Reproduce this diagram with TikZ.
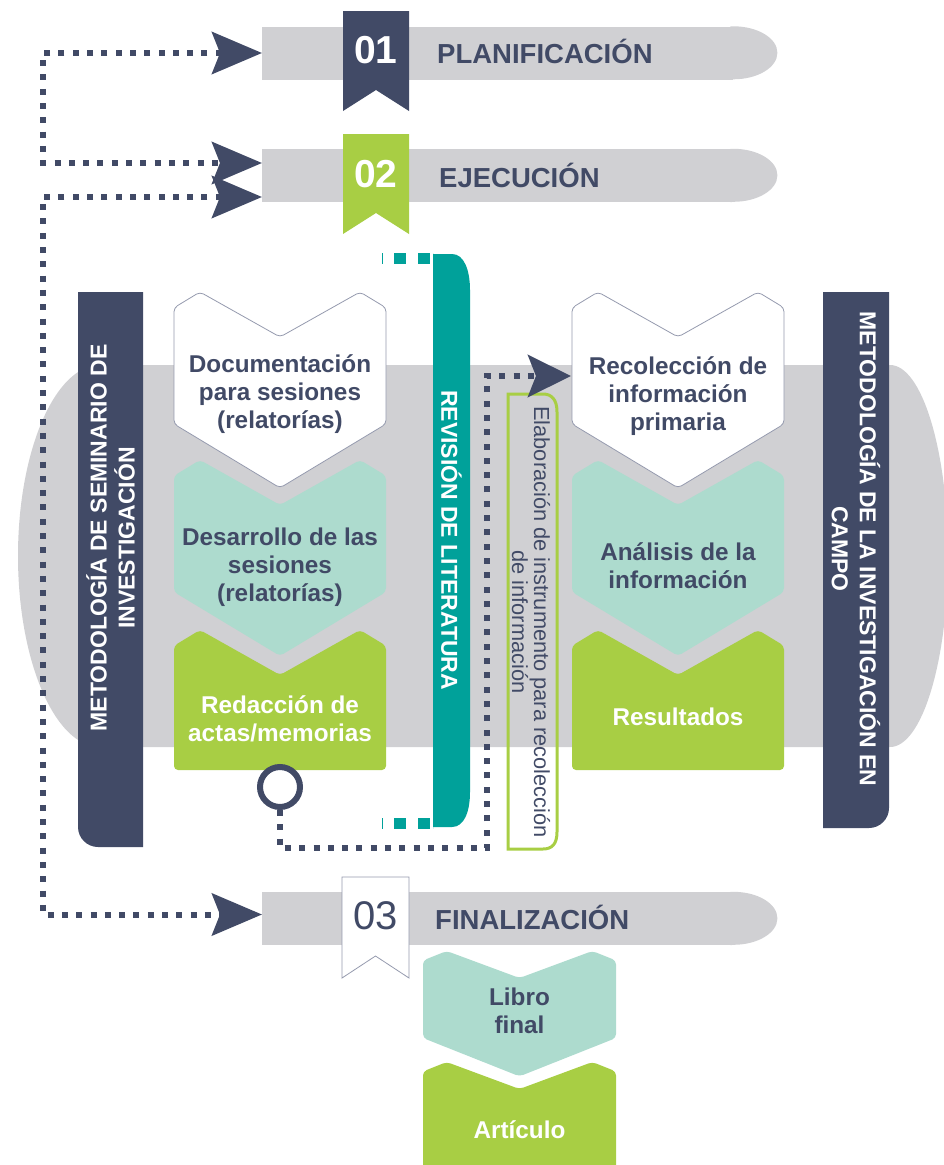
\documentclass[tikz,border=0pt]{standalone}
\usepackage{fontspec}
\setmainfont{Liberation Sans}
\usetikzlibrary{arrows.meta}
\definecolor{navyc}{HTML}{414A66}
\definecolor{greenc}{HTML}{A8CE44}
\definecolor{tealc}{HTML}{00A19A}
\definecolor{mintc}{HTML}{ADDBCE}
\definecolor{grayc}{HTML}{D0D0D3}
\definecolor{linec}{HTML}{959AAE}
\tikzstyle{bar}=[rectangle, fill=grayc, minimum height=52pt, inner sep=0pt, anchor=west]
\tikzstyle{headtxt}=[font=\fontsize{27.5}{33}\selectfont\bfseries, text=navyc, inner sep=0pt, anchor=base west]
\tikzstyle{numtxt}=[font=\fontsize{39}{44}\selectfont\bfseries, text=white, inner sep=0pt, anchor=base]
\tikzstyle{boxtxt}=[font=\fontsize{24.3}{28}\selectfont\bfseries, align=center, text=navyc, inner sep=0pt]
\tikzstyle{bartxt}=[font=\fontsize{23}{28}\selectfont\bfseries, align=center, text=white, inner sep=0pt]
\tikzstyle{smalltxt}=[font=\fontsize{21.8}{22}\selectfont, align=center, text=navyc, inner sep=0pt]
\tikzstyle{whitebox}=[fill=white, draw=linec, line width=0.8pt, rounded corners=4pt]
\tikzstyle{mintbox}=[fill=mintc, rounded corners=4pt]
\tikzstyle{greenbox}=[fill=greenc, rounded corners=4pt]
\tikzstyle{dotline}=[draw=navyc, line width=6pt, dash pattern=on 6pt off 8.3pt,
  >={Stealth[length=50pt, width=42pt, inset=8pt]}]
\tikzstyle{tealstub}=[draw=tealc, line width=11pt, dash pattern=on 1pt off 11pt on 12pt off 12pt on 12pt off 3pt]
\tikzstyle{ring}=[circle, draw=navyc, line width=6pt, fill=white, minimum size=40pt, inner sep=0pt]

% chevron: style, centre x, peak y, half width, notch depth, side height
\newcommand{\chevbox}[6]{%
  \path[#1] (#2-#4,#3+0.35*#5) -- (#2-0.755*#4,#3) -- (#2,#3+#5) -- (#2+0.755*#4,#3)
    -- (#2+#4,#3+0.35*#5) -- (#2+#4,#3+#6) -- (#2,#3+#6+1.42*#5) -- (#2-#4,#3+#6) -- cycle;}
\newcommand{\chevflat}[6]{%
  \path[#1] (#2-#4,#3+0.35*#5) -- (#2-0.755*#4,#3) -- (#2,#3+#5) -- (#2+0.755*#4,#3)
    -- (#2+#4,#3+0.35*#5) -- (#2+#4,#3+#6) -- (#2-#4,#3+#6) -- cycle;}
% rounded end of a phase bar
\newcommand{\barend}[1]{%
  \fill[grayc] ([xshift=-3pt]#1.north east) -- (#1.north east)
    arc[start angle=-90, end angle=90, x radius=44, y radius=26.5] -- ([xshift=-3pt]#1.south east) -- cycle;}

\begin{document}
\begin{tikzpicture}[x=1pt, y=-1pt]
\useasboundingbox (0,0) rectangle (943,1165);

% grey band behind the two columns
\fill[grayc] (100,365) -- (890,365) .. controls (922,365) and (948,451) .. (948,556)
  .. controls (948,661) and (922,747) .. (890,747) -- (100,747)
  .. controls (55,747) and (18,661) .. (18,556) .. controls (18,451) and (55,365) .. (100,365) -- cycle;

% phase bars
\node[bar, minimum width=471pt, minimum height=53pt] (plan) at (262,53) {};
\node[bar, minimum width=471pt, minimum height=53pt] (ejec) at (262,175.5) {};
\node[bar, minimum width=471pt, minimum height=53pt] (final) at (262,918.5) {};
\barend{plan}
\barend{ejec}
\barend{final}

% ribbons
\fill[navyc] (343,11) -- (409,11) -- (409,111) -- (376,90) -- (343,111) -- cycle;
\fill[greenc] (343,134) -- (409,134) -- (409,234) -- (376,213) -- (343,234) -- cycle;
\filldraw[fill=white, draw=linec, line width=0.8pt] (342,877) -- (409,877) -- (409,978) -- (375.5,956) -- (342,978) -- cycle;

\node[numtxt] (n01) at (376,63) {01};
\node[numtxt] (n02) at (376,187) {02};
\node[numtxt, font=\fontsize{40}{44}\selectfont, text=navyc] (n03) at (375.5,929) {03};
\node[headtxt] (plantxt) at (437,63) {PLANIFICACIÓN};
\node[headtxt] (ejectxt) at (439,187) {EJECUCIÓN};
\node[headtxt] (finaltxt) at (435,929) {FINALIZACIÓN};

% dotted links on the left
\draw[dotline, <->] (plan.west) -- ++(-219,0) |- ([yshift=12.5pt]ejec.west);
\draw[dotline, <->] ([yshift=-21.5pt]ejec.west) -- ++(-219,0) |- ([yshift=4pt]final.west);

% side bars
\fill[navyc] (78,292) -- (143,292) -- (143,847) -- (98,847) .. controls (87,847) and (78,838) .. (78,827) -- cycle;
\fill[navyc] (823,292) -- (889,292) -- (889,808) .. controls (889,819) and (880,828) .. (869,828) -- (823,828) -- cycle;
\node[bartxt, rotate=90] (semtxt) at (110.5,538) {METODOLOGÍA DE SEMINARIO DE\\INVESTIGACIÓN};
\node[bartxt, rotate=-90] (camptxt) at (856,549) {METODOLOGÍA DE LA INVESTIGACIÓN EN\\CAMPO};

% left column
\chevbox{whitebox}{280}{292}{106}{45}{132}
\chevbox{mintbox}{280}{460}{106}{45}{132}
\chevflat{greenbox}{280}{630}{106}{45}{140}
\node[boxtxt] (docu) at (280,394) {Documentación\\para sesiones\\(relatorías)};
\node[boxtxt] (desa) at (280,567) {Desarrollo de las\\sesiones\\(relatorías)};
\node[boxtxt, text=white] (reda) at (280,719) {Redacción de\\actas/memorias};

% right column
\chevbox{whitebox}{678}{292}{106}{45}{132}
\chevbox{mintbox}{678}{460}{106}{45}{132}
\chevflat{greenbox}{678}{630}{106}{45}{140}
\node[boxtxt] (reco) at (678,396) {Recolección de\\información\\primaria};
\node[boxtxt] (anal) at (678,566) {Análisis de la\\información};
\node[boxtxt, text=white] (resu) at (678,717) {Resultados};
\coordinate (recol) at (571,376);

% final products
\chevbox{mintbox}{519.5}{951}{96.5}{27}{87}
\chevflat{greenbox}{519.5}{1062}{96.5}{27}{125}
\node[boxtxt] (libro) at (519.5,1011) {Libro\\final};
\node[boxtxt, text=white] (arti) at (519.5,1130) {Artículo};

% literature review bar
\fill[tealc] (433,254) -- (452,254) .. controls (464,254) and (470,270) .. (470,290) -- (470,792)
  .. controls (470,812) and (464,827) .. (452,827) -- (433,827) -- cycle;
\node[bartxt, rotate=-90] (revtxt) at (451.5,540) {REVISIÓN DE LITERATURA};
\coordinate (stubtop) at (382,258);
\coordinate (revtop) at (433,258);
\coordinate (stubbot) at (382,823);
\coordinate (revbot) at (433,823);
\draw[tealstub] (stubtop) -- (revtop);
\draw[tealstub] (stubbot) -- (revbot);

% instrument box
\draw[greenc, line width=3pt] (508,394) -- (543,394) .. controls (552,394) and (557,400) .. (557,412) -- (557,832)
  .. controls (557,844) and (552,849) .. (543,849) -- (508,849) -- cycle;
\node[smalltxt, rotate=-90] (elab) at (531,622) {Elaboración de instrumento para recolección\\de información};

% link from the minutes to data collection
\node[ring] (ring) at (280,787) {};
\draw[dotline, ->, >={Stealth[length=43pt, width=42pt, inset=8pt]}] (ring.south) -- (280,848) -- (487,848) |- (recol);

\end{tikzpicture}
\end{document}
